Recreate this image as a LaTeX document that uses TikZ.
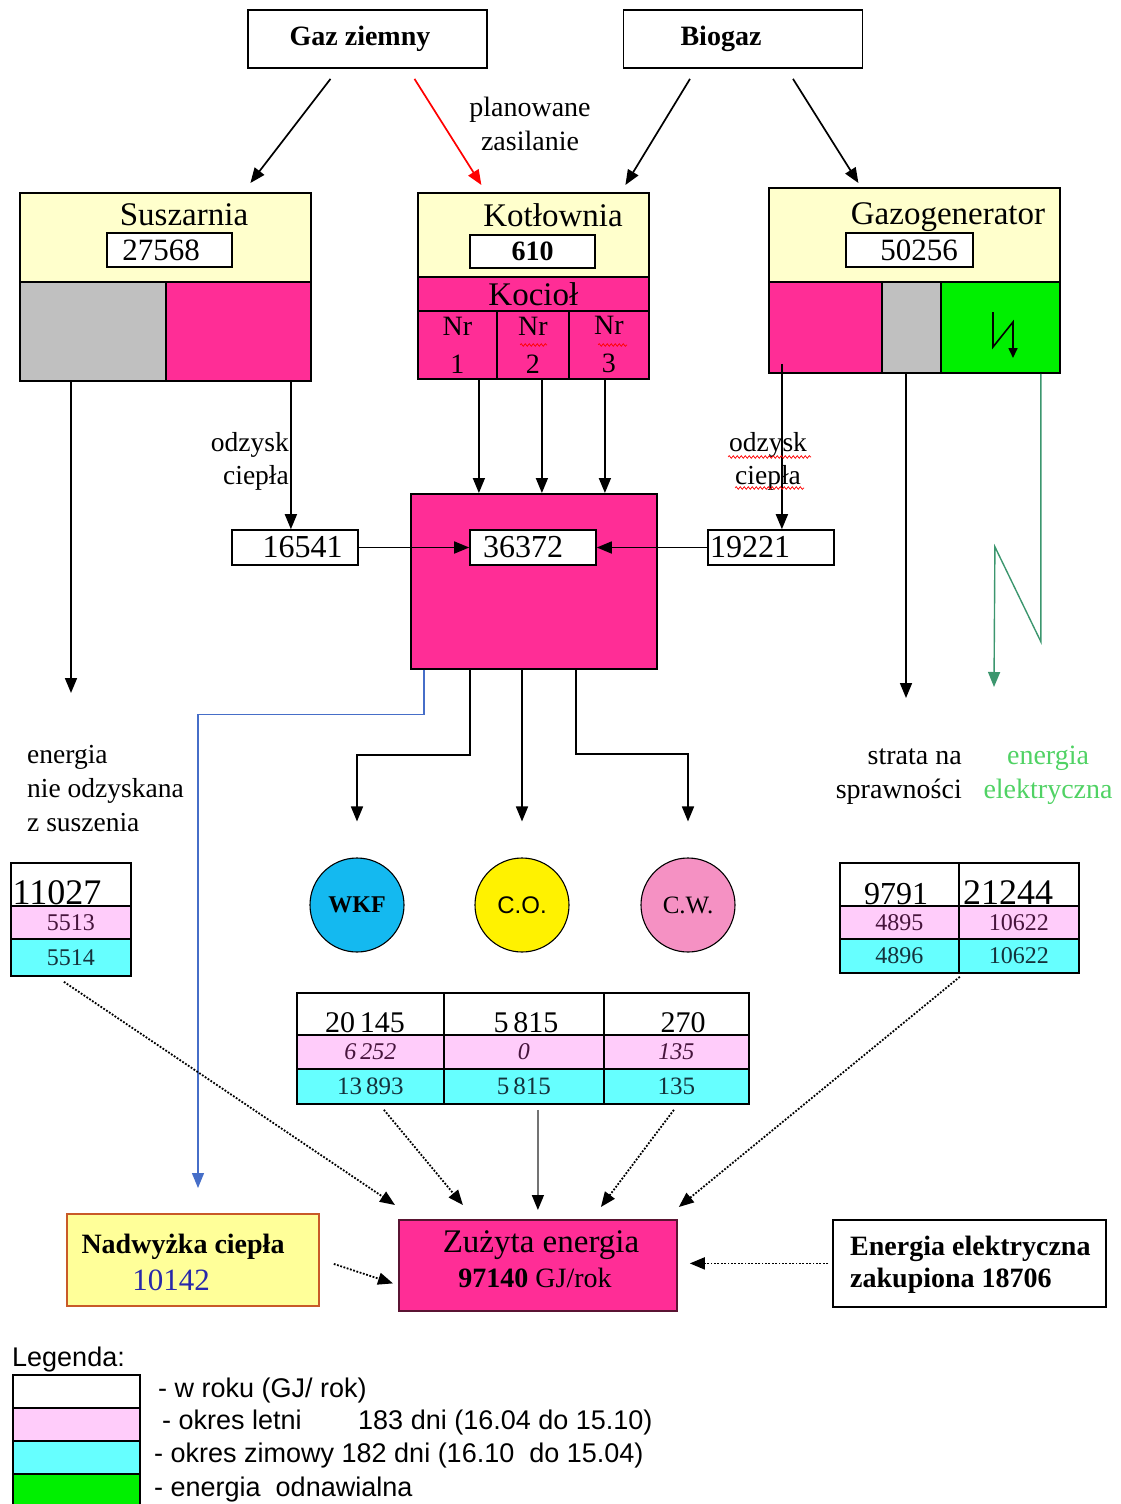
\documentclass[tikz,border=0pt]{standalone}
\usepackage{fontspec}
\setmainfont{Liberation Serif}
\setsansfont{Liberation Sans}
\usetikzlibrary{arrows.meta,decorations.pathmorphing}

\definecolor{pinkM}{RGB}{255,45,150}
\definecolor{creamY}{RGB}{255,255,204}
\definecolor{greyB}{RGB}{192,192,192}
\definecolor{greenB}{RGB}{0,240,0}
\definecolor{pinkL}{RGB}{255,204,250}
\definecolor{cyanL}{RGB}{102,255,255}
\definecolor{skyB}{RGB}{20,185,240}
\definecolor{rosyP}{RGB}{245,145,195}
\definecolor{lineB}{RGB}{70,110,200}
\definecolor{lineG}{RGB}{60,150,110}
\definecolor{textG}{RGB}{80,210,100}
\definecolor{textB}{RGB}{40,40,170}
\definecolor{lemonY}{RGB}{255,255,153}
\definecolor{rimO}{RGB}{200,90,40}
\definecolor{rimM}{RGB}{90,20,50}
\definecolor{inkP}{RGB}{70,20,60}
\definecolor{inkC}{RGB}{20,50,60}

\newcommand\fsz[2]{\fontsize{#1}{#2}\selectfont}

\tikzset{
  part/.style={draw, line width=1.8pt, inner sep=0pt, anchor=north west},
  srcbox/.style={draw, line width=1.8pt, minimum width=239pt, minimum height=58pt, font=\bfseries\fsz{28}{32}},
  valbox/.style={draw, fill=white, line width=1.6pt, inner sep=0pt, minimum width=126pt, minimum height=35pt, font=\fsz{31}{34}},
  txt/.style={inner sep=0pt},
  title/.style={txt, anchor=base, font=\fsz{33}{38}},
  note/.style={txt, align=center, font=\fsz{28}{34}},
  cell/.style={part, fill=pinkM, minimum height=68pt, align=center, font=\fsz{28}{38}},
  rowP/.style={part, fill=pinkL, minimum height=33pt, text=inkP, font=\fsz{24}{26}},
  rowC/.style={part, fill=cyanL, minimum height=34pt, text=inkC, font=\fsz{24}{26}},
  bignum/.style={txt, anchor=base, font=\fsz{32}{34}},
  usage/.style={circle, draw, line width=1.1pt, minimum size=94pt, inner sep=0pt, font=\fsz{25}{27}},
  legtxt/.style={txt, anchor=west, font=\sffamily\fsz{27}{30}},
  arr/.style={-{Triangle[length=15pt,width=12pt]}, line width=1.7pt},
  dotarr/.style={arr, line width=1.8pt, dash pattern=on 1.8pt off 1.6pt},
  elarr/.style={arr, lineG, line width=1.4pt},
  wavy/.style={red, line width=0.7pt, decorate, decoration={snake, amplitude=1.3pt, segment length=4pt}},
}

\begin{document}
\begin{tikzpicture}[x=1pt, y=-1pt]
\useasboundingbox (0,0) rectangle (1120,1504);

% zrodla gazu
\node[srcbox] (gas) at (367.5,39) {\hspace*{-15pt}Gaz ziemny};
\node[srcbox] (bio) at (743,39) {\hspace*{-44pt}Biogaz};

% Suszarnia
\node[part, fill=creamY, minimum width=291pt, minimum height=89pt] (susTop) at (19,192) {};
\node[part, fill=greyB, minimum width=146pt, minimum height=99pt] (susGrey) at (19,281) {};
\node[part, fill=pinkM, minimum width=145pt, minimum height=99pt] (susPink) at (165,281) {};
\node[title] (susName) at (184,225) {Suszarnia};
\node[valbox, minimum width=125pt, minimum height=34pt] (susVal) at (169.5,250) {\hspace*{-17pt}27568};

% Kotlownia
\node[part, fill=creamY, minimum width=231pt, minimum height=84pt] (kotTop) at (417,192) {};
\node[part, fill=pinkM, minimum width=231pt, minimum height=34pt, font=\fsz{33}{36}] (kotBand) at (417,276) {Kocioł};
\node[cell, minimum width=79pt] (kc1) at (417,310) {Nr\\1};
\node[cell, minimum width=72pt] (kc2) at (496,310) {Nr\\2};
\node[cell, minimum width=80pt] (kc3) at (568,310) {Nr\\3};
\node[title] (kotName) at (553,226) {Kotłownia};
\node[valbox, minimum width=125pt, minimum height=33pt, font=\bfseries\fsz{28}{32}] (kotVal) at (532.5,251.5) {610};
\draw[wavy] (520,345) -- (547,345);
\draw[wavy] (598,345) -- (627,345);

% Gazogenerator
\node[part, fill=creamY, minimum width=291pt, minimum height=94pt] (ggTop) at (768,187) {};
\node[part, fill=pinkM, minimum width=113pt, minimum height=91pt] (ggPink) at (768,281) {};
\node[part, fill=greyB, minimum width=59pt, minimum height=91pt] (ggGrey) at (881,281) {};
\node[part, fill=greenB, minimum width=119pt, minimum height=91pt] (ggGreen) at (940,281) {};
\node[title] (ggName) at (948,224) {Gazogenerator};
\node[valbox, minimum width=127pt, minimum height=34pt] (ggVal) at (909.5,250) {50256\hspace*{-19pt}};
\draw[-{Triangle[length=10pt,width=9pt]}, line width=1.6pt] (993,312) -- (993,347) -- (1013,322) -- (1013,358);

% zasilanie
\draw[arr] ([xshift=-37pt,yshift=-10pt]gas.south) -- ([xshift=85pt,yshift=9pt]susTop.north);
\draw[arr, red] ([xshift=47pt,yshift=-10pt]gas.south) -- ([xshift=-52pt,yshift=7pt]kotTop.north);
\draw[arr] ([xshift=-53pt,yshift=-10pt]bio.south) -- ([xshift=92pt,yshift=7pt]kotTop.north);
\draw[arr] ([xshift=50pt,yshift=-10pt]bio.south) -- ([xshift=-56pt,yshift=4pt]ggTop.north);
\node[note] (plan) at (530,124) {planowane\\zasilanie};

% wezel ciepla
\node[part, fill=pinkM, minimum width=246pt, minimum height=175pt] (hub) at (410,493) {};
\node[valbox, font=\fsz{32}{34}] (hubVal) at (533,547.5) {\hspace*{-20pt}36372};
\node[valbox, font=\fsz{32}{34}] (recL) at (295,547.5) {16541\hspace*{-15pt}};
\node[valbox, font=\fsz{32}{34}] (recR) at (771,547.5) {\hspace*{-42pt}19221};
\draw[arr] (recL.east) -- (hubVal.west);
\draw[arr] (recR.west) -- (hubVal.east);

\draw[arr] ([xshift=21.5pt]kc1.south) -- ([xshift=21.5pt]kc1.south |- hub.north);
\draw[arr] ([xshift=9pt]kc2.south) -- ([xshift=9pt]kc2.south |- hub.north);
\draw[arr] ([xshift=-4pt]kc3.south) -- ([xshift=-4pt]kc3.south |- hub.north);

\draw[arr] ([xshift=52.5pt]susPink.south) -- ([xshift=52.5pt]susPink.south |- recL.north);
\node[note, align=right, anchor=east, font=\fsz{27.5}{33}] (odzL) at (289,461) {odzysk\\ciepła};
\draw[arr] ([xshift=-43.5pt,yshift=10pt]ggPink.south) -- ([xshift=-43.5pt]ggPink.south |- recR.north);
\node[note, font=\fsz{27.5}{33}] (odzR) at (768,461) {odzysk\\ciepła};
\draw[wavy] (728,457) -- (811,457);
\draw[wavy] (735,488) -- (804,488);

% straty
\coordinate (lossL) at (71,693);
\draw[arr] (susGrey.south -| lossL) -- (lossL);
\coordinate (lossR) at (906,698);
\draw[arr] (ggGrey.south -| lossR) -- (lossR);
\coordinate (elecOut) at (994,687);
\draw[elarr] ([xshift=40.5pt]ggGreen.south) -- ++(0,268) -- ++(-46,-95) -- (elecOut);

% odbiorcy
\node[usage, fill=skyB, font=\bfseries\fsz{24}{26}] (wkf) at (357,905) {WKF};
\node[usage, fill=yellow, font=\sffamily\fsz{24}{26}] (co) at (522,905) {C.O.};
\node[usage, fill=rosyP] (cw) at (688,905) {C.W.};
\coordinate (surIn) at (198,1188);
\draw[arr, lineB, line width=1.3pt] ([xshift=14pt]hub.south west) -- ++(0,45) -| (surIn);
\draw[arr] ([xshift=60pt]hub.south west) -- ++(0,85) -| ([yshift=36pt]wkf.north);
\draw[arr] (hub.south -| co) -- ([yshift=36pt]co.north);
\draw[arr] ([xshift=166pt]hub.south west) -- ++(0,84) -| ([yshift=36pt]cw.north);

% energia nie odzyskana
\node[note, align=left, anchor=west, font=\fsz{27.5}{34}] (lossTxt) at (27,789) {energia\\nie odzyskana\\z suszenia};
\node[part, fill=white, minimum width=120pt, minimum height=43pt] (lossW) at (10,862) {};
\node[bignum, font=\fsz{36}{38}] (lossWv) at (57,904) {11027};
\node[rowP, minimum width=120pt] (lossP) at (10,905) {5513};
\node[rowC, minimum width=120pt, minimum height=37pt] (lossC) at (10,938) {5514};

% strata i energia elektryczna
\node[note, align=right, anchor=east] (strTxt) at (962,777) {strata na\\sprawności};
\node[note, text=textG] (elTxt) at (1048,775.5) {energia\\elektryczna};
\node[part, fill=white, minimum width=119pt, minimum height=43pt] (effW1) at (839,862) {};
\node[part, fill=white, minimum width=120pt, minimum height=43pt] (effW2) at (958,862) {};
\node[bignum] (effW1v) at (896,904) {9791};
\node[bignum, font=\fsz{36}{38}] (effW2v) at (1008,904) {21244};
\node[rowP, minimum width=119pt] (effP1) at (839,905) {4895};
\node[rowP, minimum width=120pt] (effP2) at (958,905) {10622};
\node[rowC, minimum width=119pt] (effC1) at (839,938) {4896};
\node[rowC, minimum width=120pt] (effC2) at (958,938) {10622};

% zuzycie odbiorcow
\node[part, fill=white, minimum width=147pt, minimum height=42pt] (useW1) at (296,992) {};
\node[part, fill=white, minimum width=160pt, minimum height=42pt] (useW2) at (443,992) {};
\node[part, fill=white, minimum width=145pt, minimum height=42pt] (useW3) at (603,992) {};
\node[bignum, font=\fsz{30}{32}] (useW1v) at (365,1032) {20\,145};
\node[bignum, font=\fsz{30}{32}] (useW2v) at (526,1032) {5\,815};
\node[bignum, font=\fsz{30}{32}] (useW3v) at (683,1032) {270};
\node[rowP, minimum width=147pt, minimum height=34pt, font=\itshape\fsz{24}{26}] (useP1) at (296,1034) {6\,252};
\node[rowP, minimum width=160pt, minimum height=34pt, font=\itshape\fsz{24}{26}] (useP2) at (443,1034) {0};
\node[rowP, minimum width=145pt, minimum height=34pt, font=\itshape\fsz{24}{26}] (useP3) at (603,1034) {135};
\node[rowC, minimum width=147pt, minimum height=35pt, font=\fsz{25}{27}] (useC1) at (296,1068) {13\,893};
\node[rowC, minimum width=160pt, minimum height=35pt, font=\fsz{25}{27}] (useC2) at (443,1068) {5\,815};
\node[rowC, minimum width=145pt, minimum height=35pt, font=\fsz{25}{27}] (useC3) at (603,1068) {135};

% bilans
\node[part, fill=lemonY, draw=rimO, minimum width=252pt, minimum height=92pt] (sur) at (66,1213) {};
\node[txt, anchor=base, font=\bfseries\fsz{28}{30}] (surName) at (183,1253) {Nadwyżka ciepła};
\node[txt, anchor=base, font=\fsz{31}{33}, text=textB] (surVal) at (171,1290) {10142};
\node[part, fill=pinkM, draw=rimM, minimum width=278pt, minimum height=91pt] (use) at (398,1219) {};
\node[txt, anchor=base, font=\fsz{33}{35}] (useName) at (541,1252) {Zużyta energia};
\node[txt, anchor=base, font=\fsz{28}{30}] (useVal) at (535,1287) {\textbf{97140} GJ/rok};
\node[part, fill=white, minimum width=273pt, minimum height=87pt] (buy) at (832,1219) {};
\node[txt, anchor=north west, align=left, font=\bfseries\fsz{28}{32}] (buyTxt) at (850,1236) {Energia elektryczna\\zakupiona 18706};

\draw[dotarr] ([xshift=-7pt,yshift=-5pt]lossC.south) -- ([xshift=-3pt,yshift=14pt]use.north west);
\draw[dotarr] ([xshift=13.5pt,yshift=-5pt]useC1.south) -- ([xshift=-75pt,yshift=14pt]use.north);
\draw[-{Triangle[length=15pt,width=12pt,color=black]}, line width=1.5pt, black!55] ([xshift=14pt,yshift=-5pt]useC2.south) -- ([yshift=9pt]use.north);
\draw[dotarr] ([xshift=-2.5pt,yshift=-5pt]useC3.south) -- ([xshift=63pt,yshift=12pt]use.north);
\draw[dotarr] ([yshift=-3pt]effC1.south east) -- ([xshift=1pt,yshift=12pt]use.north east);
\draw[dotarr] ([xshift=14pt,yshift=-4pt]sur.east) -- ([xshift=-5pt,yshift=-18pt]use.west);
\draw[dotarr] ([xshift=-4pt]buy.west) -- ([xshift=12pt]use.east |- buy.west);

% legenda
\node[txt, anchor=base west, font=\sffamily\fsz{27}{30}] (legHead) at (12,1366) {Legenda:};
\node[part, fill=white, minimum width=127pt, minimum height=33pt] (legW) at (12,1374) {};
\node[part, fill=pinkL, minimum width=127pt, minimum height=33pt] (legP) at (12,1407) {};
\node[part, fill=cyanL, minimum width=127pt, minimum height=33pt] (legC) at (12,1440) {};
\node[part, fill=greenB, minimum width=127pt, minimum height=40pt] (legG) at (12,1473) {};
\node[legtxt] (legWt) at (158,1390) {- w roku (GJ/ rok)};
\node[legtxt] (legPt) at (162,1422) {- okres letni\hspace{49pt} 183 dni (16.04 do 15.10)};
\node[legtxt] (legCt) at (154,1456) {- okres zimowy 182 dni (16.10~~do 15.04)};
\node[legtxt] (legGt) at (154,1490) {- energia~~odnawialna};
\end{tikzpicture}
\end{document}
